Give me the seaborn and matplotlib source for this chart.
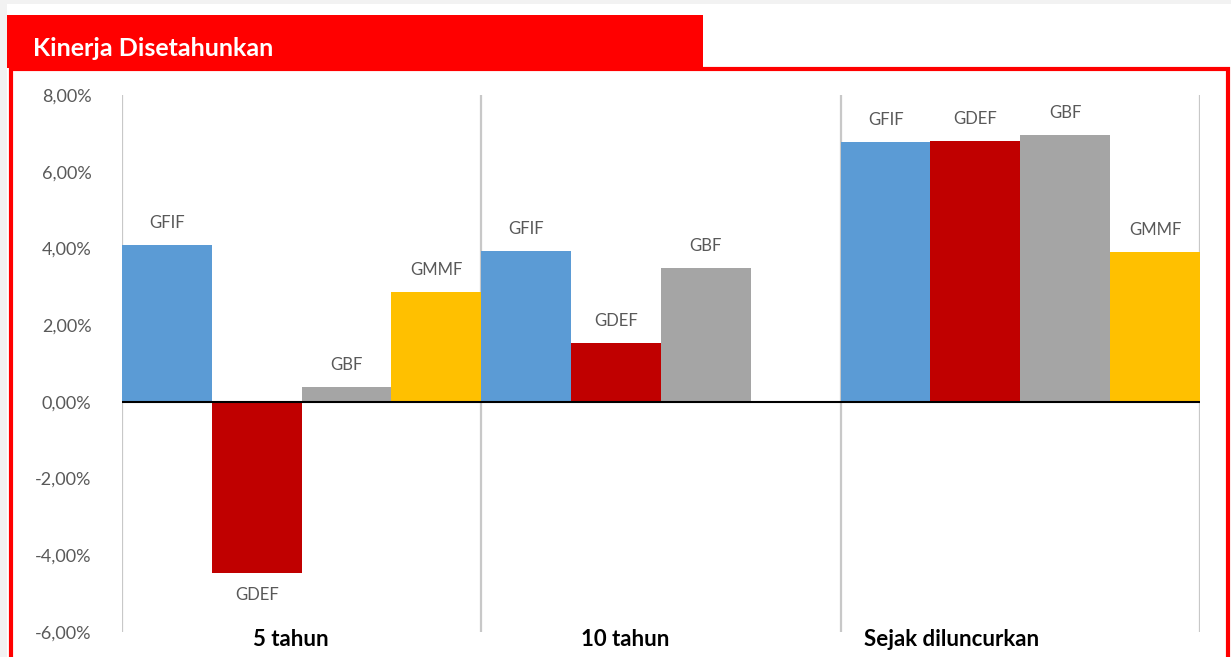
import matplotlib.pyplot as plt
import matplotlib.patches as mpatches
import seaborn as sns
import pandas as pd
import numpy as np

# Data (annualised returns, %)
periods = ["5 tahun", "10 tahun", "Sejak diluncurkan"]
funds = ["GFIF", "GDEF", "GBF", "GMMF"]
gfif = [4.08, 3.94, 6.77]
gdef = [-4.47, 1.53, 6.81]
gbf = [0.38, 3.48, 6.95]
gmmf = [2.86, np.nan, 3.91]
fund_colors = ["#5B9BD5", "#C00000", "#A5A5A5", "#FFC000"]
y_ticks = [-6, -4, -2, 0, 2, 4, 6, 8]

sns.set_theme(style="white")
plt.rcParams["font.family"] = ["Lato", "DejaVu Sans"]

rows = []
for name, vals in zip(funds, [gfif, gdef, gbf, gmmf]):
    for p, v in zip(periods, vals):
        rows.append({"Periode": p, "Dana": name, "Return": v})
df = pd.DataFrame(rows)

fig = plt.figure(figsize=(12.31, 6.57), dpi=100)
W, H = 1231, 657

# page background, white panel, red frame and header
fig.patches.append(mpatches.Rectangle((0, 0), 1, 1, transform=fig.transFigure,
                                      facecolor="#f2f2f2", edgecolor="none", zorder=-10))
fig.patches.append(mpatches.Rectangle((7 / W, 0), 1, (H - 4) / H, transform=fig.transFigure,
                                      facecolor="white", edgecolor="none", zorder=-9))
fig.patches.append(mpatches.Rectangle((11 / W, -10 / H), 1217 / W, (H - 69 + 10) / H,
                                      transform=fig.transFigure, facecolor="none",
                                      edgecolor="#FF0000", lw=3.0, zorder=5))
fig.patches.append(mpatches.Rectangle((7 / W, (H - 68) / H), 696 / W, 53 / H,
                                      transform=fig.transFigure, facecolor="#FF0000",
                                      edgecolor="none", zorder=6))
fig.text(33 / W, (H - 49) / H, "Kinerja Disetahunkan", color="white", fontsize=18,
         fontweight="bold", va="center", ha="left", zorder=7)

ax = fig.add_axes([122 / W, 25 / H, 1078 / W, 537 / H])
sns.barplot(data=df, x="Periode", y="Return", hue="Dana", order=periods,
            hue_order=funds, palette=fund_colors, width=1.0, saturation=1,
            linewidth=0, ax=ax, legend=False)

# series names as data labels
for cont, name in zip(ax.containers, funds):
    ax.bar_label(cont, labels=[name] * len(cont), padding=10, color="#595959",
                 fontsize=12)

ax.set_xlim(-0.5, 2.5)
ax.set_ylim(-6, 8)
ax.set_yticks(y_ticks)
ax.set_yticklabels([f"{t:.2f}%".replace(".", ",") for t in y_ticks],
                   color="#595959", fontsize=13)
ax.set_xticks([-0.03, 0.9, 1.81])
ax.set_xticklabels(periods, fontsize=16, fontweight="bold", color="black")
ax.tick_params(axis="y", length=0, pad=22)
ax.tick_params(axis="x", length=0, pad=-2)
ax.set_xlabel("")
ax.set_ylabel("")
for s in ax.spines.values():
    s.set_visible(False)
ax.set_facecolor("none")

for xv in [-0.5, 0.5, 1.5, 2.5]:
    ax.axvline(xv, color="#c8c8c8", lw=1.6, zorder=0)
ax.axhline(0, color="black", lw=1.5, zorder=3)

plt.savefig("out.png", dpi=100)
plt.close(fig)
